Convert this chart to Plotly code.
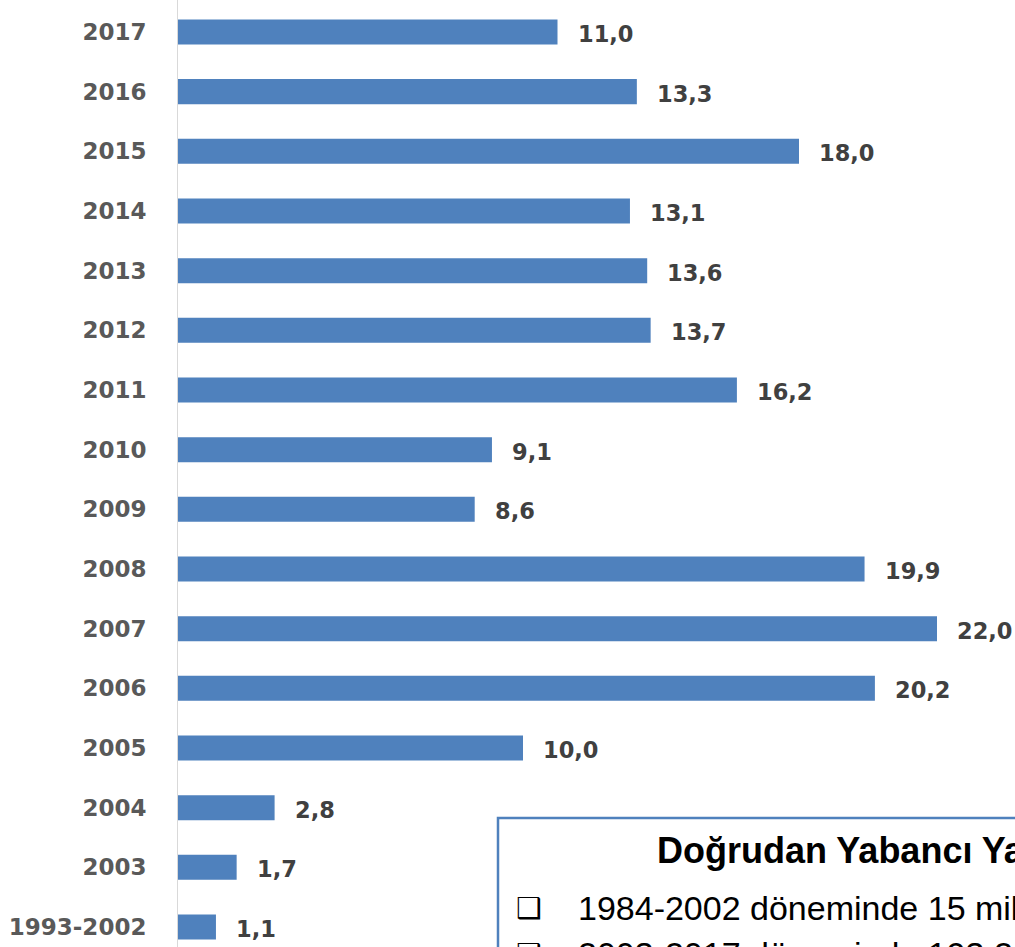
import plotly.graph_objects as go

categories = ["1993-2002", "2003", "2004", "2005", "2006", "2007", "2008", "2009",
              "2010", "2011", "2012", "2013", "2014", "2015", "2016", "2017"]
values = [1.1, 1.7, 2.8, 10.0, 20.2, 22.0, 19.9, 8.6, 9.1, 16.2, 13.7, 13.6, 13.1, 18.0, 13.3, 11.0]
labels = [f"{v:.1f}".replace(".", ",") for v in values]

box_title = "Doğrudan Yabancı Yatırımlar"
box_lines = ["1984-2002 döneminde 15 milyar dolar", "2003-2017 döneminde 193,2 milyar dolar"]

BAR = "#4F81BD"

fig = go.Figure()
fig.add_trace(go.Bar(
    x=values, y=categories, orientation="h",
    marker=dict(color=BAR, line=dict(width=0)),
    hoverinfo="skip",
))

for i, (v, t) in enumerate(zip(values, labels)):
    fig.add_annotation(x=v, y=i, text=f"<b>{t}</b>", showarrow=False,
                       xanchor="left", yanchor="middle", xshift=18, yshift=-2,
                       font=dict(family="DejaVu Sans", size=22.5, color="#404040"))

# text box (bottom right, cropped by the page edge)
fig.add_shape(type="rect", xref="paper", yref="paper",
              x0=(498 - 178) / 837, x1=1.3, y0=(947 - 818) / 947, y1=-0.2,
              line=dict(color=BAR, width=2.5), fillcolor="white", layer="above")
fig.add_annotation(xref="paper", yref="paper", x=(655 - 178) / 837, y=(947 - 850) / 947,
                   text=f"<b>{box_title}</b>", showarrow=False, xanchor="left", yanchor="middle",
                   font=dict(family="Liberation Sans", size=36, color="black"))
for i, line in enumerate(box_lines):
    yc = 908 + i * 46
    fig.add_annotation(xref="paper", yref="paper", x=(514 - 178) / 837, y=(947 - yc) / 947,
                       text="❑", showarrow=False, xanchor="left", yanchor="middle",
                       font=dict(family="DejaVu Sans", size=29, color="black"))
    fig.add_annotation(xref="paper", yref="paper", x=(576 - 178) / 837, y=(947 - yc) / 947,
                       text=line, showarrow=False, xanchor="left", yanchor="middle",
                       font=dict(family="Liberation Sans", size=34, color="black"))

fig.update_layout(
    width=1015, height=947,
    margin=dict(l=178, r=0, t=0, b=0),
    plot_bgcolor="white", paper_bgcolor="white",
    showlegend=False,
    bargap=0.58,
    xaxis=dict(range=[0, 837 / 34.5], visible=False, fixedrange=True),
    yaxis=dict(type="category", range=[-0.335, 15.536], showline=True, linecolor="#D9D9D9",
               linewidth=1, showgrid=False, ticks="", ticklabelstandoff=26, fixedrange=True,
               tickfont=dict(family="DejaVu Sans", size=23, color="#595959", weight="bold")),
)

fig.write_html("out.html", config={"displayModeBar": False},
               post_script="document.body.style.margin='0';")
